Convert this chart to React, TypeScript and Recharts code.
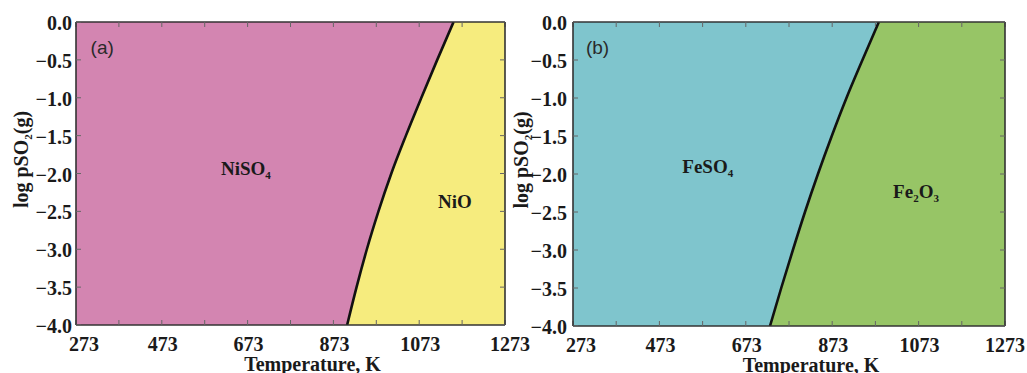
import React from 'react';
import { ComposedChart, Area, Line, XAxis, YAxis, CartesianGrid, ReferenceDot } from 'recharts';

// ---- data ----
const TEMP_TICKS = [273, 373, 473, 573, 673, 773, 873, 973, 1073, 1173, 1273];
const TEMP_LABELS = [273, 473, 673, 873, 1073, 1273];
const LOGP_TICKS = [0, -0.5, -1, -1.5, -2, -2.5, -3, -3.5, -4];

const LOGP_LEVELS = [-4, -3.5, -3, -2.5, -2, -1.5, -1, -0.5, 0];
const NI_BOUNDARY_T = [905, 927, 951, 978, 1008, 1042, 1078, 1115, 1153];
const FE_BOUNDARY_T = [729, 755, 782, 810, 840, 872, 906, 943, 981];

const T_MIN = 273;
const T_MAX = 1273;
const P_MIN = -4;
const P_MAX = 0;

const NI_PHASES = [
  { parts: [['NiSO', false], ['4', true]], T: 669, p: -2.02 },
  { parts: [['NiO', false]], T: 1156, p: -2.46 },
];
const FE_PHASES = [
  { parts: [['FeSO', false], ['4', true]], T: 585, p: -1.99 },
  { parts: [['Fe', false], ['2', true], ['O', false], ['3', true]], T: 1067, p: -2.32 },
];

const buildRows = (boundaryT: number[]) => {
  const rows: any[] = LOGP_LEVELS.map((p, i) => ({ T: boundaryT[i], fill: p, edge: p }));
  rows.push({ T: T_MAX, fill: P_MAX });
  return rows;
};

const SERIF = '"Liberation Serif", "Times New Roman", serif';
const SANS = '"Liberation Sans", Arial, sans-serif';
const TEXT = '#1a1a1a';
const AXIS_LINE = { stroke: '#333', strokeWidth: 1.6 };
const TICK_LINE = { stroke: '#666', strokeWidth: 1 };

const fmtP = (v: number) => (v === 0 ? '0.0' : '\u2212' + Math.abs(v).toFixed(1));

const makeXTick = (lastDx: number) => (props: any) => {
  const { x, y, payload } = props;
  const v = payload.value;
  if (!TEMP_LABELS.includes(v)) return <g />;
  const dx = v === T_MIN ? 8 : v === T_MAX ? lastDx : 1;
  return (
    <text x={x + dx} y={y} dy={14} textAnchor="middle" fontFamily={SERIF} fontWeight="bold" fontSize={20} fill={TEXT}>
      {String(v)}
    </text>
  );
};

const YTick = (props: any) => {
  const { x, y, payload } = props;
  return (
    <text x={x} y={y} dy={8} textAnchor="end" fontFamily={SERIF} fontWeight="bold" fontSize={20} fill={TEXT}>
      {fmtP(payload.value)}
    </text>
  );
};

const Empty = () => <g />;

const XLabel = (props: any) => {
  const vb = props.viewBox;
  return (
    <text x={vb.x + vb.width / 2 + 22} y={vb.y + 46} textAnchor="middle" fontFamily={SERIF} fontWeight="bold" fontSize={20} fill={TEXT}>
      Temperature, K
    </text>
  );
};

const YLabel = (props: any) => {
  const vb = props.viewBox;
  const cx = vb.x + 28;
  const cy = vb.y + vb.height / 2 - 14;
  return (
    <text x={cx} y={cy} transform={`rotate(-90 ${cx} ${cy})`} textAnchor="middle" fontFamily={SERIF} fontWeight="bold" fontSize={20} fill={TEXT}>
      <tspan>log pSO</tspan>
      <tspan fontSize={11} dy={4}>2</tspan>
      <tspan dy={-4}>(g)</tspan>
    </text>
  );
};

const phaseLabel = (parts: any[]) => (props: any) => {
  const vb = props.viewBox;
  const cx = vb.x + vb.width / 2;
  const cy = vb.y + vb.height / 2;
  let shifted = false;
  return (
    <text x={cx} y={cy} textAnchor="middle" fontFamily={SERIF} fontWeight="bold" fontSize={19} fill={TEXT}>
      {parts.map(([t, sub]: any, i: number) => {
        let dy = 0;
        if (sub && !shifted) { dy = 4; shifted = true; }
        else if (!sub && shifted) { dy = -4; shifted = false; }
        return (
          <tspan key={i} dy={dy} fontSize={sub ? 11 : 19}>{t}</tspan>
        );
      })}
    </text>
  );
};

const tagLabel = (tag: string) => (props: any) => {
  const vb = props.viewBox;
  return (
    <text x={vb.x + vb.width / 2} y={vb.y + vb.height / 2} textAnchor="start" fontFamily={SANS} fontSize={19} fill="#2a2a2a">
      {tag}
    </text>
  );
};

type PanelProps = {
  boundary: number[];
  bg: string;
  fg: string;
  tag: string;
  tagT: number;
  phases: any[];
  width: number;
  yAxisWidth: number;
  marginRight: number;
  marginBottom: number;
  yTickMargin: number;
  lastDx: number;
};

const Panel = (p: PanelProps) => {
  const rows = buildRows(p.boundary);
  return (
    <ComposedChart
      width={p.width}
      height={373}
      data={rows}
      margin={{ top: 21, right: p.marginRight, bottom: p.marginBottom, left: 0 }}
    >
      <CartesianGrid horizontal={false} vertical={false} fill={p.bg} fillOpacity={1} stroke="none" />
      <XAxis
        xAxisId={0}
        type="number"
        dataKey="T"
        domain={[T_MIN, T_MAX]}
        allowDataOverflow
        ticks={TEMP_TICKS}
        interval={0}
        orientation="bottom"
        height={30}
        tickSize={-5}
        tickMargin={17}
        tick={makeXTick(p.lastDx)}
        axisLine={AXIS_LINE}
        tickLine={TICK_LINE}
        label={XLabel}
      />
      <XAxis
        xAxisId="top"
        type="number"
        dataKey="T"
        domain={[T_MIN, T_MAX]}
        allowDataOverflow
        ticks={TEMP_TICKS}
        interval={0}
        orientation="top"
        height={1}
        tickSize={-5}
        tick={Empty}
        axisLine={AXIS_LINE}
        tickLine={TICK_LINE}
      />
      <YAxis
        yAxisId={0}
        type="number"
        domain={[P_MIN, P_MAX]}
        allowDataOverflow
        ticks={LOGP_TICKS}
        interval={0}
        orientation="left"
        width={p.yAxisWidth}
        tickSize={-5}
        tickMargin={p.yTickMargin}
        tick={YTick}
        axisLine={AXIS_LINE}
        tickLine={TICK_LINE}
        label={YLabel}
      />
      <YAxis
        yAxisId="right"
        type="number"
        domain={[P_MIN, P_MAX]}
        allowDataOverflow
        ticks={LOGP_TICKS}
        interval={0}
        orientation="right"
        width={1}
        tickSize={-5}
        tick={Empty}
        axisLine={AXIS_LINE}
        tickLine={TICK_LINE}
      />
      <Area
        xAxisId={0}
        yAxisId={0}
        dataKey="fill"
        type="linear"
        baseValue={P_MIN}
        fill={p.fg}
        fillOpacity={1}
        stroke="none"
        isAnimationActive={false}
      />
      <Line
        xAxisId={0}
        yAxisId={0}
        dataKey="edge"
        type="monotone"
        stroke="#111"
        strokeWidth={2.6}
        dot={false}
        activeDot={false}
        isAnimationActive={false}
      />
      {p.phases.map((ph: any, i: number) => (
        <ReferenceDot
          key={i}
          xAxisId={0}
          yAxisId={0}
          x={ph.T}
          y={ph.p}
          r={1}
          fill="none"
          stroke="none"
          label={phaseLabel(ph.parts)}
        />
      ))}
      <ReferenceDot
        xAxisId={0}
        yAxisId={0}
        x={p.tagT}
        y={-0.42}
        r={1}
        fill="none"
        stroke="none"
        label={tagLabel(p.tag)}
      />
    </ComposedChart>
  );
};

export default function App() {
  return (
    <div style={{ position: 'absolute', left: 0, top: 0, width: 1027, height: 373, background: '#fff', overflow: 'hidden' }}>
      <div style={{ position: 'absolute', left: 0, top: 0 }}>
        <Panel
          boundary={NI_BOUNDARY_T}
          bg="#D385B1"
          fg="#F6EC7E"
          tag="(a)"
          tagT={307}
          phases={NI_PHASES}
          width={545}
          yAxisWidth={76}
          marginRight={39}
          marginBottom={18}
          yTickMargin={9}
          lastDx={5}
        />
      </div>
      <div style={{ position: 'absolute', left: 500, top: 0 }}>
        <Panel
          boundary={FE_BOUNDARY_T}
          bg="#7FC5CD"
          fg="#97C566"
          tag="(b)"
          tagT={303}
          phases={FE_PHASES}
          width={527}
          yAxisWidth={73}
          marginRight={21}
          marginBottom={17}
          yTickMargin={11}
          lastDx={0}
        />
      </div>
    </div>
  );
}
